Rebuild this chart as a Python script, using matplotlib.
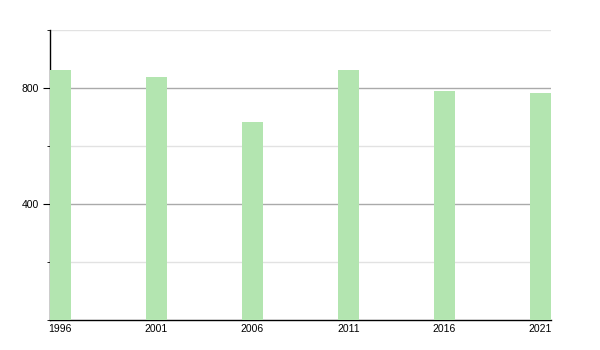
import matplotlib
matplotlib.use('Agg')
import matplotlib.pyplot as plt
from matplotlib.ticker import MultipleLocator

plt.rcParams['font.family'] = ['Liberation Sans', 'DejaVu Sans']

years = [1996, 2001, 2006, 2011, 2016, 2021]
population = [862, 838, 683, 862, 790, 783]

fig = plt.figure(figsize=(6, 3.5), dpi=100)
ax = fig.add_axes([50 / 600, 30 / 350, 501 / 600, 290 / 350])

ax.bar(years, population, width=1.08, color='#b3e5b0', zorder=3)

ax.set_xlim(1996 - 0.54, 2021 + 0.55)
ax.set_ylim(0, 1000)
ax.set_xticks(years)
ax.set_xticklabels([str(y) for y in years])
ax.yaxis.set_major_locator(MultipleLocator(400))
ax.yaxis.set_minor_locator(MultipleLocator(200))
ax.set_yticks([400, 800])

# gridlines: dark at labelled values, light between
for v in [400, 800]:
    ax.axhline(v, color='#aaaaaa', lw=1, zorder=1)
for v in [200, 600, 1000]:
    ax.axhline(v, color='#e2e2e2', lw=1, zorder=1)

for s in ['top', 'right']:
    ax.spines[s].set_visible(False)
ax.spines['left'].set_linewidth(1)
ax.spines['bottom'].set_linewidth(1)
ax.tick_params(axis='x', length=0, labelsize=7.5, pad=3)
ax.tick_params(axis='y', which='major', length=5, labelsize=7.5, pad=3)
ax.tick_params(axis='y', which='minor', length=2)

fig.savefig('out.png', dpi=100)
